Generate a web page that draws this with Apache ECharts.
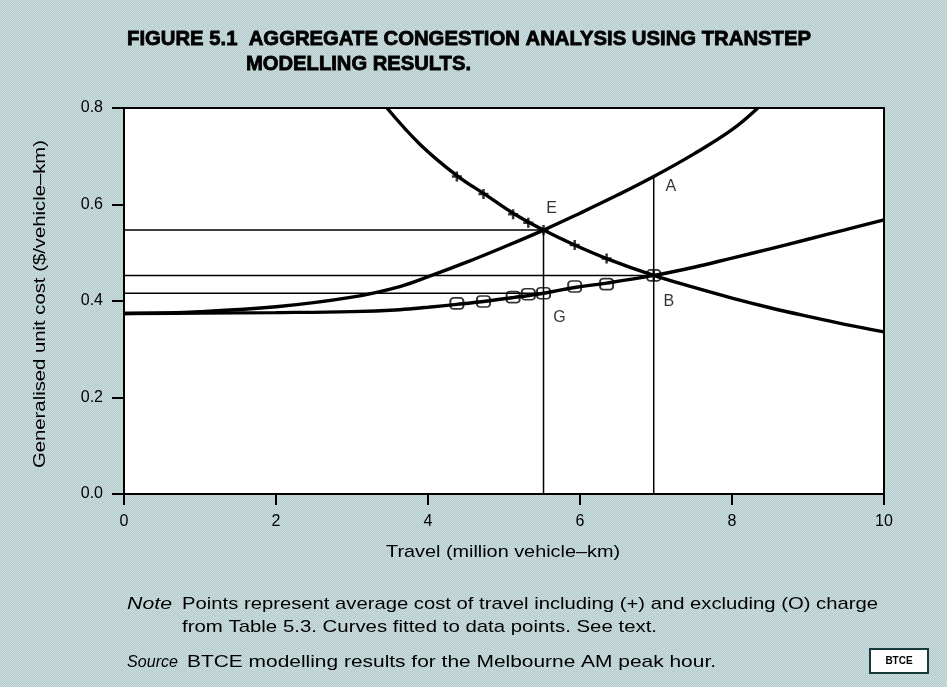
<!DOCTYPE html>
<html>
<head>
<meta charset="utf-8">
<script src="https://cdn.jsdelivr.net/npm/echarts@6/dist/echarts.min.js"></script>
<style>
  html, body { margin: 0; padding: 0; }
  #chart { width: 947px; height: 687px; }
</style>
</head>
<body>
<div id="chart"></div>
<script>
// ---- Data: travel (million vehicle-km) against generalised unit cost ($/vehicle-km) ----

// Demand curve (falling)
const demandX = [3.46, 3.9, 4.38, 4.77, 5.12, 5.52, 5.93, 6.35, 6.97, 7.5, 8, 8.5, 9, 9.5, 10];
const demandY = [0.800, 0.724, 0.660, 0.619, 0.582, 0.547, 0.516, 0.488, 0.453, 0.428, 0.406, 0.386, 0.368, 0.351, 0.336];

// Marginal cost curve (rising steeply)
const marginalX = [0, 1, 2, 3, 3.63, 4.03, 4.5, 5, 5.52, 6, 6.5, 6.97, 7.5, 8, 8.34];
const marginalY = [0.374, 0.378, 0.388, 0.408, 0.430, 0.452, 0.480, 0.512, 0.547, 0.582, 0.620, 0.658, 0.705, 0.755, 0.800];

// Average cost curve (rising gently)
const averageX = [0, 1, 2, 3, 3.63, 4.0, 4.38, 4.73, 5.12, 5.52, 5.93, 6.35, 6.97, 7.5, 8, 8.5, 9, 9.5, 10];
const averageY = [0.374, 0.375, 0.376, 0.378, 0.382, 0.387, 0.393, 0.399, 0.407, 0.416, 0.428, 0.437, 0.453, 0.470, 0.489, 0.508, 0.528, 0.548, 0.568];

// Modelled points: travel, cost including charge (+) and excluding charge (O)
const pointTravel = [4.38, 4.73, 5.12, 5.32, 5.52, 5.93, 6.35, 6.97];
const costWithCharge = [0.658, 0.622, 0.580, 0.562, 0.547, 0.516, 0.488, 0.453];
const costWithoutCharge = [0.395, 0.399, 0.408, 0.414, 0.416, 0.430, 0.435, 0.453];

// Labelled equilibrium points
const keyNames = ['A', 'E', 'B', 'G'];
const keyX = [6.97, 5.52, 6.97, 5.52];
const keyY = [0.658, 0.547, 0.453, 0.416];

// Axis ticks
const xTicks = [0, 2, 4, 6, 8, 10];
const yTicks = [0.0, 0.2, 0.4, 0.6, 0.8];

// Text
const titleLine1 = 'FIGURE 5.1  AGGREGATE CONGESTION ANALYSIS USING TRANSTEP';
const titleLine2 = 'MODELLING RESULTS.';
const xName = 'Travel (million vehicle\u2013km)';
const yName = 'Generalised unit cost ($/vehicle\u2013km)';
const noteHead = 'Note';
const noteLine1 = 'Points represent average cost of travel including (+) and excluding (O) charge';
const noteLine2 = 'from Table 5.3. Curves fitted to data points. See text.';
const sourceHead = 'Source';
const sourceLine = 'BTCE modelling results for the Melbourne AM peak hour.';
const badge = 'BTCE';

// ---- Helpers ----
const zip = (xs, ys) => xs.map((x, i) => [x, ys[i]]);

// Fine dotted grey/teal page texture
function makeTexture() {
  const c = document.createElement('canvas');
  c.width = 4; c.height = 4;
  const g = c.getContext('2d');
  g.fillStyle = '#c6c6ca';
  g.fillRect(0, 0, 4, 4);
  g.fillStyle = '#b2e8e4';
  [[0, 0], [2, 0], [0, 2], [2, 2]].forEach(([x, y]) => g.fillRect(x, y, 1, 1));
  g.fillStyle = '#c2dede';
  [[1, 1], [3, 1], [1, 3], [3, 3]].forEach(([x, y]) => g.fillRect(x, y, 1, 1));
  return c;
}

const measureCtx = document.createElement('canvas').getContext('2d');
// Text element stretched horizontally to a given width
function fitText(str, font, x, y, width, heavy) {
  measureCtx.font = font;
  const w = measureCtx.measureText(str).width;
  const style = { text: str, font: font, fill: '#000', verticalAlign: 'middle', align: 'left' };
  if (heavy) { style.stroke = '#000'; style.lineWidth = heavy; }
  return { type: 'text', x: x, y: y, scaleX: width ? width / w : 1, z: 10, style: style };
}

const FONT = '"Liberation Sans", Arial, sans-serif';
const thinLine = { color: '#000', width: 1.5 };

function refLine(points) {
  return {
    type: 'line', data: points, symbol: 'none', silent: true,
    lineStyle: thinLine, z: 2, animation: false
  };
}

const chart = echarts.init(document.getElementById('chart'), null, { renderer: 'canvas' });

// y axis title, rotated and stretched along its length
measureCtx.font = '16px ' + FONT;
const yNameScale = 328 / measureCtx.measureText(yName).width;

const option = {
  animation: false,
  backgroundColor: { image: makeTexture(), repeat: 'repeat' },
  grid: {
    left: 124, top: 108, width: 760, height: 386,
    show: true, backgroundColor: '#fff', borderColor: '#000', borderWidth: 2
  },
  xAxis: {
    type: 'value', min: 0, max: 10, interval: 2,
    axisLine: { onZero: false, lineStyle: { color: '#000', width: 2 } },
    axisTick: { length: 11, lineStyle: { color: '#000', width: 2 } },
    axisLabel: {
      margin: 20, color: '#000', fontSize: 16, fontFamily: FONT,
      formatter: v => (xTicks.includes(v) ? String(v) : '')
    },
    splitLine: { show: false }
  },
  yAxis: {
    type: 'value', min: 0, max: 0.8, interval: 0.2,
    axisLine: { onZero: false, lineStyle: { color: '#000', width: 2 } },
    axisTick: { length: 12, lineStyle: { color: '#000', width: 2 } },
    axisLabel: {
      margin: 21, color: '#000', fontSize: 16, fontFamily: FONT,
      formatter: v => yTicks.find(t => Math.abs(t - v) < 1e-9).toFixed(1)
    },
    splitLine: { show: false }
  },
  series: [
    // Reference lines from the axes to E, B, G and A
    refLine([[0, keyY[1]], [keyX[1], keyY[1]]]),
    refLine([[0, keyY[2]], [keyX[2], keyY[2]]]),
    refLine([[0, keyY[3]], [keyX[3], keyY[3]]]),
    refLine([[keyX[1], 0], [keyX[1], keyY[1]]]),
    refLine([[keyX[0], 0], [keyX[0], keyY[0]]]),
    {
      name: 'Demand', type: 'line', data: zip(demandX, demandY), smooth: 0.4,
      symbol: 'none', lineStyle: { color: '#000', width: 3.4 }, z: 3
    },
    {
      name: 'Marginal cost', type: 'line', data: zip(marginalX, marginalY), smooth: 0.4,
      symbol: 'none', lineStyle: { color: '#000', width: 3.4 }, z: 3
    },
    {
      name: 'Average cost', type: 'line', data: zip(averageX, averageY), smooth: 0.4,
      symbol: 'none', lineStyle: { color: '#000', width: 3.4 }, z: 3
    },
    {
      name: 'Including charge', type: 'scatter', data: zip(pointTravel, costWithCharge),
      symbol: 'path://M3,0H5V3H8V5H5V8H3V5H0V3H3Z', symbolSize: 10,
      itemStyle: { color: '#000' }, z: 4
    },
    {
      name: 'Excluding charge', type: 'scatter', data: zip(pointTravel, costWithoutCharge),
      symbol: 'roundRect', symbolSize: [13, 11],
      itemStyle: { color: 'rgba(255,255,255,0)', borderColor: '#000', borderWidth: 1.8 }, z: 4
    },
    {
      name: 'Key points', type: 'scatter',
      data: keyNames.map((n, i) => ({ value: [keyX[i], keyY[i]], name: n })),
      symbolSize: 0, silent: true, z: 5,
      label: {
        show: true, formatter: p => p.name, color: '#000', fontSize: 16, fontFamily: FONT,
        position: 'inside'
      },
      labelLayout: function (p) {
        const off = { A: [17, 10], E: [8, -21], B: [15, 26], G: [16, 24] }[keyNames[p.dataIndex]];
        return { dx: off[0], dy: off[1] };
      }
    }
  ],
  graphic: [
    fitText(titleLine1, '900 20px ' + FONT, 127, 39, 684, 0.8),
    fitText(titleLine2, '900 20px ' + FONT, 246, 64, 225, 0.8),
    fitText(xName, '17px ' + FONT, 386, 552, 234),
    {
      type: 'text', x: 41, y: 304, rotation: Math.PI / 2, scaleX: yNameScale, z: 10,
      style: { text: yName, font: '16px ' + FONT, fill: '#000', align: 'center', verticalAlign: 'middle' }
    },
    fitText(noteHead, 'italic 17px ' + FONT, 127, 604, 45),
    fitText(noteLine1, '17px ' + FONT, 182, 604, 696),
    fitText(noteLine2, '17px ' + FONT, 182, 627, 475),
    fitText(sourceHead, 'italic 17px ' + FONT, 127, 662, 51),
    fitText(sourceLine, '17px ' + FONT, 187, 662, 529),
    {
      type: 'rect', shape: { x: 870, y: 649, width: 58, height: 24 }, z: 10,
      style: { fill: '#fff', stroke: '#163a3a', lineWidth: 2 }
    },
    {
      type: 'text', x: 899, y: 661, z: 11,
      style: { text: badge, font: 'bold 10px ' + FONT, fill: '#000', align: 'center', verticalAlign: 'middle' }
    }
  ]
};

chart.setOption(option);
</script>
</body>
</html>
